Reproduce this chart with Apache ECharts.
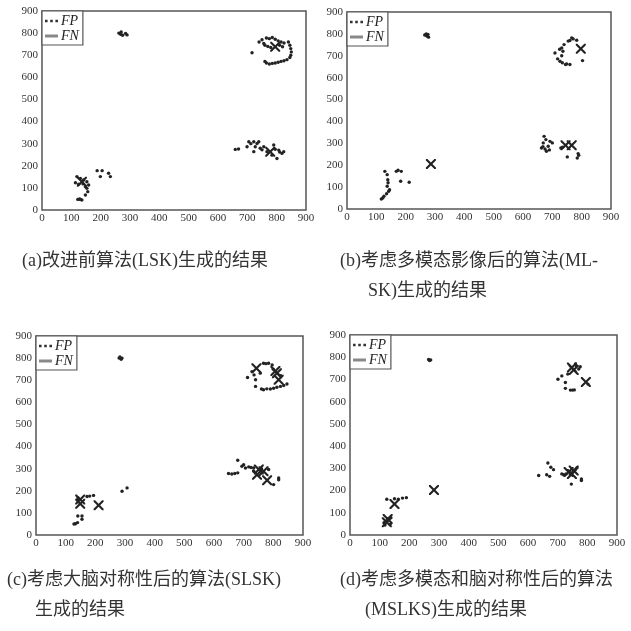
<!DOCTYPE html>
<html><head><meta charset="utf-8">
<script src="https://cdn.jsdelivr.net/npm/echarts@6/dist/echarts.min.js"></script>
<style>html,body{margin:0;padding:0;background:#fff}#c{width:631px;height:631px}</style>
</head><body><div id="c"></div>
<script>
const axisTicks = [0,100,200,300,400,500,600,700,800,900];
const seriesNames = ['FP','FN'];
const captions = [
  ['(a)改进前算法(LSK)生成的结果'],
  ['(b)考虑多模态影像后的算法(ML-','SK)生成的结果'],
  ['(c)考虑大脑对称性后的算法(SLSK)','生成的结果'],
  ['(d)考虑多模态和脑对称性后的算法','(MSLKS)生成的结果']
];
const fpA = [[262,800],[268,795],[275,790],[285,798],[290,792],[270,805],
 [716,711],[740,760],[750,770],[756,753],[765,778],[775,775],[785,780],[795,772],[805,765],[815,760],[825,755],[840,760],[845,745],[848,730],[850,715],[848,700],[845,690],[835,680],[825,675],[815,672],[805,668],[795,665],[785,663],[775,660],[765,665],[760,672],[770,740],[780,735],[810,745],[820,738],[760,745],
 [659,274],[670,276],[699,286],[705,309],[722,309],[733,301],[727,286],[722,264],[744,279],[756,286],[767,264],[790,294],[807,271],[818,256],[801,233],[784,248],[824,264],[739,309],[712,300],[750,272],[795,275],[810,262],
 [119,151],[131,143],[142,136],[153,128],[159,113],[153,98],[156,83],[148,68],[131,48],[122,48],[136,45],[148,105],[114,123],[125,117],[188,178],[205,178],[199,151],[227,166],[233,151],[140,118],[128,50]];
const fnA = [[795,738],[778,264],[136,128]];
const fpB = [[265,795],[272,790],[278,785],[270,800],[276,797],
 [709,713],[718,686],[726,675],[734,668],[749,663],[760,660],[732,736],[740,751],[754,767],[771,777],[783,771],[803,678],[732,700],[736,721],[766,782],[745,660],[725,730],[760,770],
 [672,332],[678,317],[692,309],[700,302],[663,279],[675,274],[680,264],[729,279],[751,238],[785,233],[788,253],[686,287],[669,302],[668,285],[690,270],[735,282],[790,245],
 [129,172],[168,172],[185,172],[183,127],[212,122],[139,134],[137,104],[142,81],[135,70],[126,58],[117,46],[137,157],[145,88],[174,177],[122,50],[140,120]];
const fnB = [[797,732],[745,291],[766,291],[286,206]];
const fpC = [[280,800],[287,795],[283,805],[290,800],
 [767,777],[784,777],[796,769],[728,739],[735,724],[740,702],[740,672],[713,712],[767,657],[778,661],[801,664],[824,672],[846,683],[756,732],[835,676],[775,775],[790,660],[812,668],[760,660],[800,750],[825,720],
 [680,338],[694,311],[706,303],[649,278],[660,276],[680,281],[717,308],[734,303],[818,258],[801,228],[734,288],[784,296],[670,278],[700,318],[725,305],[760,300],[818,250],
 [181,176],[194,179],[142,168],[141,86],[155,86],[155,71],[133,51],[140,56],[290,198],[307,213],[128,50],[172,174],[140,160]];
const fnC = [[743,754],[812,732],[818,702],[807,742],[745,273],[767,288],[779,248],[751,296],[149,141],[211,135],[149,161]];
const fpD = [[265,790],[272,788],[268,785],
 [763,762],[776,757],[714,716],[701,701],[726,686],[726,660],[743,652],[756,653],[802,679],[734,724],[771,747],[750,652],[760,770],
 [636,268],[667,324],[677,305],[686,294],[663,271],[673,264],[720,271],[746,229],[780,252],[765,302],[714,275],[780,245],[728,275],
 [124,161],[177,166],[163,161],[118,45],[135,48],[138,78],[150,163],[190,168],[115,55],[130,75]];
const fnD = [[795,689],[754,742],[748,754],[748,275],[737,284],[754,290],[150,139],[124,57],[127,72],[283,202]];

const panels = [[fpA,fnA],[fpB,fnB],[fpC,fnC],[fpD,fnD]];
const gridPos = [
  {left:42, top:11, width:264, height:199},
  {left:347, top:12, width:264, height:197},
  {left:36, top:336, width:267, height:199},
  {left:350, top:335, width:267, height:200}
];
const capPos = [
  [[22,252]],
  [[340,252],[368,282]],
  [[7,571],[35,601]],
  [[340,571],[365,601]]
];
const serif = "'Liberation Serif','DejaVu Serif',serif";
const capFont = "'Liberation Serif','Noto Sans CJK SC',serif";
const xPath = 'path://M0,0L3,0L10,7L17,0L20,0L20,3L13,10L20,17L20,20L17,20L10,13L3,20L0,20L0,17L7,10L0,3Z';
const dotsPath = 'path://M0,0h3v3h-3zM6,0h3v3h-3zM12,0h3v3h-3z';

const grid=[], xAxis=[], yAxis=[], series=[], legend=[], title=[];
gridPos.forEach((g,i)=>{
  grid.push(Object.assign({show:true, borderColor:'#555', borderWidth:1.5, backgroundColor:'#fff'}, g));
  const ax = {gridIndex:i, type:'value', min:0, max:900, interval:100,
    axisLine:{show:false}, axisTick:{show:false}, splitLine:{show:false},
    axisLabel:{fontFamily:serif, fontSize:11, color:'#333', margin:4}};
  xAxis.push(Object.assign({}, ax, {axisLabel:Object.assign({}, ax.axisLabel, {margin:3})}));
  yAxis.push(Object.assign({}, ax));
  series.push({name:seriesNames[0], type:'scatter', xAxisIndex:i, yAxisIndex:i, data:panels[i][0],
    symbol:'circle', symbolSize:3.4, itemStyle:{color:'#222', opacity:1}, silent:true});
  series.push({name:seriesNames[1], type:'scatter', xAxisIndex:i, yAxisIndex:i, data:panels[i][1],
    symbol:xPath, symbolSize:10, itemStyle:{color:'#222', opacity:1}, silent:true, z:3});
  legend.push({left:g.left, top:g.top, orient:'vertical', itemGap:1, itemWidth:13, itemHeight:3,
    padding:[3,4,2,3], borderColor:'#555', borderWidth:1.2, backgroundColor:'#fff',
    selectedMode:false,
    textStyle:{fontFamily:serif, fontStyle:'italic', fontSize:14, color:'#222', padding:[0,0,0,-2]},
    data:[{name:'FP', icon:dotsPath, itemStyle:{color:'#333'}},
          {name:'FN', icon:'rect', itemStyle:{color:'#888'}}]});
  captions[i].forEach((t,j)=>{
    title.push({text:t, left:capPos[i][j][0], top:capPos[i][j][1], padding:0,
      textStyle:{fontFamily:capFont, fontSize:18, fontWeight:'normal', color:'#333'}});
  });
});
const chart = echarts.init(document.getElementById('c'));
chart.setOption({animation:false, grid, xAxis, yAxis, series, legend, title});
</script></body></html>
